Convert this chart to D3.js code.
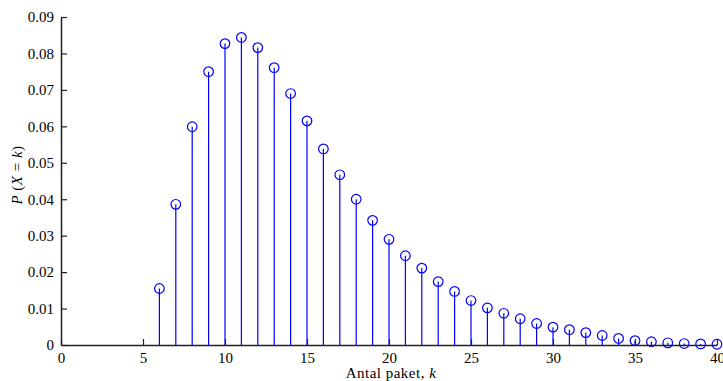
<!DOCTYPE html>
<html>
<head>
<meta charset="utf-8">
<script src="https://cdn.jsdelivr.net/npm/d3@7"></script>
<style>
  html, body { margin: 0; padding: 0; background: #fff; overflow: hidden; }
  text { font-family: "Liberation Serif", "DejaVu Serif", serif; fill: #000; }
</style>
</head>
<body>
<svg id="chart" width="723" height="381"></svg>
<script>
const ks = [6,7,8,9,10,11,12,13,14,15,16,17,18,19,20,21,22,23,24,25,26,27,28,29,30,31,32,33,34,35,36,37,38,39,40];
const probs = [0.0155,0.0386,0.0599,0.0750,0.0827,0.0844,0.0816,0.0761,0.0690,0.0615,
               0.0538,0.0467,0.0400,0.0342,0.0290,0.0245,0.0211,0.0174,0.0147,0.0122,
               0.0102,0.0087,0.0072,0.0059,0.0049,0.0042,0.0034,0.0026,0.0018,0.0012,
               0.0009,0.0006,0.0004,0.0003,0.0002];
const xTicks = [0,5,10,15,20,25,30,35,40];
const yTicks = [0,0.01,0.02,0.03,0.04,0.05,0.06,0.07,0.08,0.09];
const xLabel = "Antal paket, ";

const svg = d3.select("#chart");
const x = d3.scaleLinear().domain([0,40]).range([61,717]);
const y = d3.scaleLinear().domain([0,0.09]).range([345,17]);

// stems
svg.append("g").selectAll("line").data(ks).join("line")
  .attr("x1", d => x(d)).attr("x2", d => x(d))
  .attr("y1", y(0)).attr("y2", (d,i) => y(probs[i]))
  .attr("stroke", "#0000ff").attr("stroke-width", 1.2);

// circles
svg.append("g").selectAll("circle").data(ks).join("circle")
  .attr("cx", d => x(d)).attr("cy", (d,i) => y(probs[i]))
  .attr("r", 4.8).attr("fill", "none")
  .attr("stroke", "#0000ff").attr("stroke-width", 1.2);

// axes
const xAxis = d3.axisBottom(x).tickValues(xTicks).tickSizeInner(-6).tickSizeOuter(0).tickPadding(12)
  .tickFormat(d3.format("d"));
const yAxis = d3.axisLeft(y).tickValues(yTicks).tickSizeInner(-6).tickSizeOuter(0).tickPadding(12)
  .tickFormat(d => d === 0 ? "0" : d3.format(".2f")(d));

const gx = svg.append("g").attr("transform", `translate(0,${y(0)})`).call(xAxis);
const gy = svg.append("g").attr("transform", `translate(${x(0)},0)`).call(yAxis);
[gx, gy].forEach(g => {
  g.select(".domain").attr("stroke", "#222").attr("stroke-width", 1.5);
  g.selectAll(".tick line").attr("stroke", "#222").attr("stroke-width", 1.2);
  g.selectAll(".tick text").style("font-family", '"Liberation Serif", "DejaVu Serif", serif')
    .style("font-size", "15px").attr("fill", "#000");
});
gx.selectAll(".tick text").attr("dy", "0.71em").attr("y", 7);
gy.selectAll(".tick text").attr("x", -7);

// x label
const xl = svg.append("text").attr("x", 391).attr("y", 378).attr("text-anchor", "middle")
  .style("font-size", "15px").style("letter-spacing", "0.5px");
xl.append("tspan").text(xLabel);
xl.append("tspan").style("font-style", "italic").text("k");

// y label
const yl = svg.append("text").attr("transform", "translate(22,175) rotate(-90)")
  .attr("text-anchor", "middle").style("font-size", "15px").style("letter-spacing", "0.5px");
yl.append("tspan").style("font-style", "italic").text("P");
yl.append("tspan").text(" (");
yl.append("tspan").style("font-style", "italic").text("X");
yl.append("tspan").text(" = ");
yl.append("tspan").style("font-style", "italic").text("k");
yl.append("tspan").text(")");
</script>
</body>
</html>
